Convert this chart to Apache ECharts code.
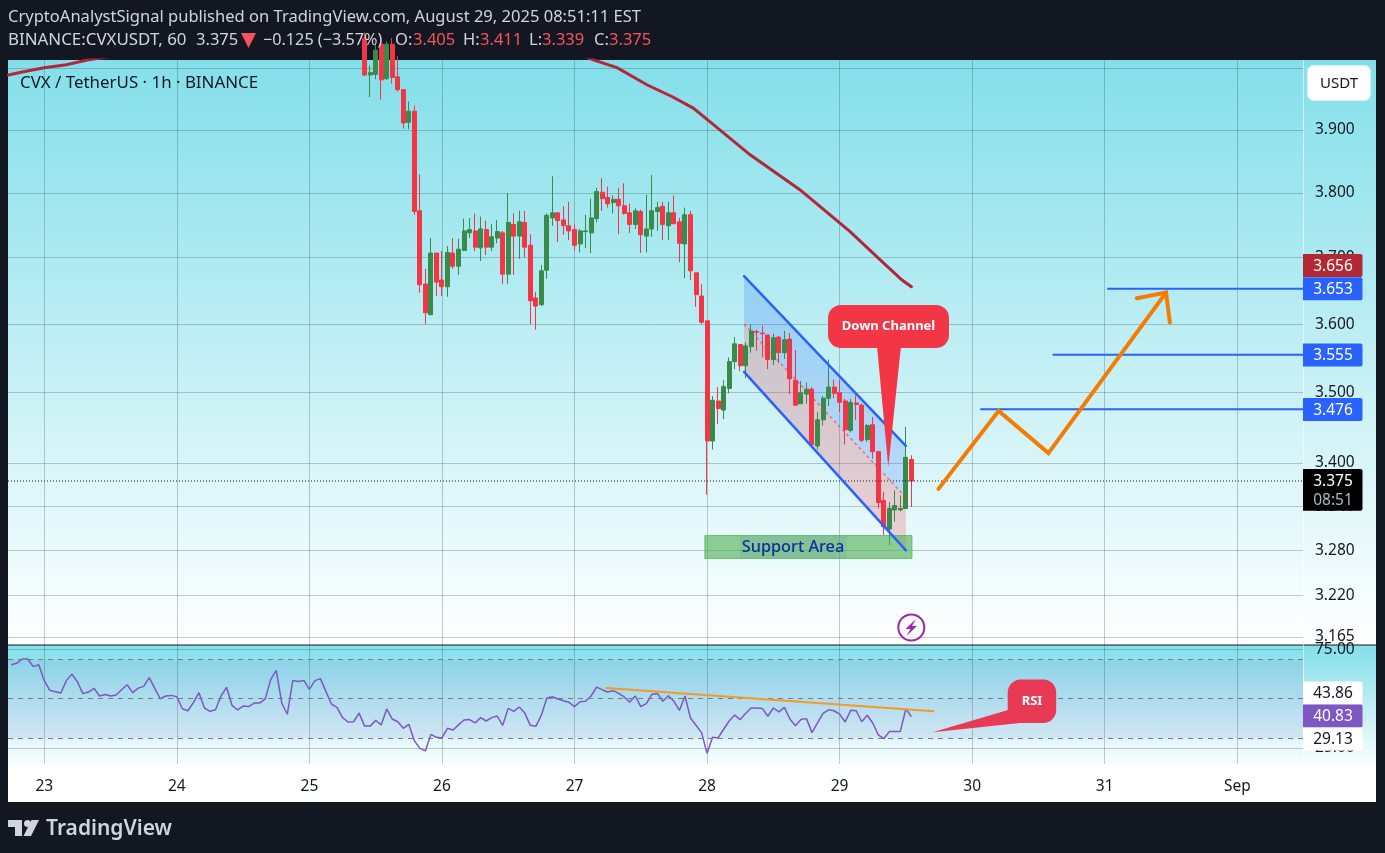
<!DOCTYPE html>
<html>
<head>
    <meta charset="utf-8" />
    <title>CVX / TetherUS</title>
    <script src="https://cdn.jsdelivr.net/npm/echarts@6/dist/echarts.min.js"></script>
    <style>
        html, body { margin: 0; padding: 0; background: #131722; }
        #main { width: 1385px; height: 853px; }
    </style>
</head>
<body>
<div id="main"></div>

<script type="text/javascript">
    // hourly candles, hour 0 = Aug 23 00:00 on the chart
    var firstCandleHour = 58;
    var opens = [
        4.05, 3.989, 3.990, 4.04, 3.983, 4.04, 3.986, 3.965, 3.912, 3.930,
        3.772, 3.660, 3.614, 3.707, 3.666, 3.656, 3.707, 3.687, 3.711, 3.738,
        3.741, 3.715, 3.743, 3.716, 3.730, 3.738, 3.675, 3.751, 3.733, 3.754,
        3.719, 3.639, 3.629, 3.681, 3.761, 3.769, 3.758, 3.749, 3.743, 3.721,
        3.740, 3.738, 3.760, 3.801, 3.793, 3.785, 3.790, 3.780, 3.769, 3.751,
        3.771, 3.733, 3.744, 3.771, 3.779, 3.749, 3.769, 3.755, 3.721, 3.766,
        3.677, 3.642, 3.605, 3.431, 3.488, 3.475, 3.506, 3.545, 3.570, 3.539,
        3.567, 3.589, 3.587, 3.584, 3.548, 3.581, 3.558, 3.578, 3.518, 3.484,
        3.498, 3.505, 3.424, 3.461, 3.492, 3.508, 3.500, 3.488, 3.446, 3.485,
        3.482, 3.433, 3.454, 3.416, 3.348, 3.309, 3.335, 3.335, 3.337, 3.405
    ];
    var closes = [
        3.989, 3.993, 4.03, 3.981, 4.04, 3.985, 3.965, 3.911, 3.930, 3.771,
        3.659, 3.617, 3.707, 3.663, 3.656, 3.708, 3.687, 3.713, 3.741, 3.743,
        3.716, 3.744, 3.716, 3.732, 3.740, 3.675, 3.754, 3.733, 3.755, 3.716,
        3.635, 3.627, 3.680, 3.765, 3.769, 3.757, 3.749, 3.741, 3.719, 3.741,
        3.741, 3.761, 3.802, 3.791, 3.783, 3.790, 3.780, 3.768, 3.751, 3.772,
        3.735, 3.744, 3.772, 3.777, 3.751, 3.769, 3.752, 3.722, 3.766, 3.680,
        3.644, 3.603, 3.431, 3.489, 3.477, 3.509, 3.545, 3.571, 3.539, 3.568,
        3.590, 3.588, 3.586, 3.548, 3.580, 3.558, 3.577, 3.520, 3.482, 3.500,
        3.505, 3.426, 3.461, 3.492, 3.508, 3.499, 3.486, 3.447, 3.486, 3.483,
        3.432, 3.453, 3.416, 3.345, 3.312, 3.337, 3.341, 3.337, 3.408, 3.375
    ];
    var lows = [
        3.987, 3.953, 3.982, 3.949, 3.981, 3.975, 3.962, 3.902, 3.901, 3.766,
        3.647, 3.600, 3.614, 3.642, 3.642, 3.641, 3.683, 3.674, 3.710, 3.730,
        3.710, 3.695, 3.704, 3.710, 3.722, 3.660, 3.660, 3.674, 3.698, 3.700,
        3.600, 3.592, 3.627, 3.668, 3.749, 3.724, 3.735, 3.727, 3.711, 3.708,
        3.715, 3.707, 3.754, 3.772, 3.777, 3.768, 3.736, 3.766, 3.738, 3.744,
        3.707, 3.708, 3.732, 3.741, 3.727, 3.727, 3.752, 3.693, 3.669, 3.666,
        3.626, 3.600, 3.356, 3.419, 3.455, 3.462, 3.499, 3.534, 3.531, 3.521,
        3.558, 3.561, 3.551, 3.534, 3.540, 3.543, 3.549, 3.498, 3.482, 3.484,
        3.484, 3.422, 3.419, 3.453, 3.481, 3.492, 3.472, 3.426, 3.443, 3.461,
        3.429, 3.430, 3.406, 3.337, 3.301, 3.287, 3.319, 3.333, 3.337, 3.339
    ];
    var highs = [
        4.06, 4.005, 4.04, 4.05, 4.045, 4.05, 4.02, 3.965, 3.946, 3.939,
        3.829, 3.683, 3.730, 3.707, 3.710, 3.718, 3.730, 3.729, 3.760, 3.761,
        3.768, 3.763, 3.757, 3.752, 3.758, 3.741, 3.800, 3.768, 3.772, 3.772,
        3.736, 3.648, 3.689, 3.768, 3.826, 3.769, 3.779, 3.786, 3.751, 3.744,
        3.766, 3.791, 3.808, 3.823, 3.810, 3.796, 3.808, 3.815, 3.783, 3.776,
        3.774, 3.797, 3.828, 3.786, 3.786, 3.786, 3.796, 3.761, 3.777, 3.772,
        3.677, 3.660, 3.605, 3.495, 3.508, 3.518, 3.551, 3.581, 3.571, 3.573,
        3.600, 3.592, 3.598, 3.584, 3.586, 3.583, 3.590, 3.587, 3.562, 3.517,
        3.515, 3.508, 3.472, 3.495, 3.548, 3.519, 3.519, 3.491, 3.491, 3.496,
        3.484, 3.455, 3.465, 3.416, 3.360, 3.346, 3.362, 3.355, 3.451, 3.411
    ];

    // slow moving average, [hour, price]
    var maLine = [
        [-6.5, 3.989], [-4, 3.994], [0, 4.001], [4, 4.006], [8, 4.014], [20, 4.03], [50, 4.06], [80, 4.05], [95, 4.03],
        [99.4, 4.014], [103.7, 4.001], [109.1, 3.973], [113.8, 3.953], [117.5, 3.935], [120.5, 3.913],
        [127.8, 3.860], [136.8, 3.805], [145.9, 3.740], [151.3, 3.697], [155.3, 3.666], [157, 3.656]
    ];

    // RSI, one value per hour from firstRsiHour
    var firstRsiHour = -6;
    var rsiValues = [
        67.2, 67.9, 70.1, 70.1, 66.2, 67.2, 59.1, 54.2, 53.5, 52.8, 59.1, 62.4, 58.5, 52.5, 53.3, 55.2,
        51.3, 52.1, 51.3, 51.8, 54.5, 57.0, 53.0, 55.3, 56.2, 60.6, 55.2, 49.9, 51.3, 51.6, 50.9, 44.8,
        43.8, 47.9, 53.0, 45.2, 43.5, 44.3, 51.3, 55.7, 46.5, 44.2, 46.2, 45.9, 47.7, 47.7, 49.8, 59.7,
        64.3, 47.7, 42.0, 59.2, 58.7, 59.2, 54.7, 59.1, 60.1, 53.5, 47.2, 45.5, 40.3, 38.1, 38.2, 42.6,
        36.0, 36.0, 38.9, 36.6, 44.7, 39.6, 38.2, 34.9, 36.9, 28.6, 24.7, 23.4, 31.8, 30.3, 30.0, 34.9,
        34.0, 36.6, 39.1, 39.3, 37.6, 40.3, 38.6, 40.3, 41.1, 36.4, 45.0, 43.5, 45.7, 42.6, 36.4, 35.9,
        41.6, 50.3, 50.9, 49.8, 48.9, 48.1, 45.9, 48.4, 48.6, 51.3, 55.8, 54.5, 53.3, 54.0, 52.6, 50.8,
        48.2, 51.3, 45.9, 47.4, 52.1, 52.6, 48.6, 51.4, 48.6, 44.0, 51.3, 40.1, 36.4, 32.7, 22.2, 30.3,
        30.0, 34.4, 38.6, 41.6, 39.3, 42.5, 45.2, 45.2, 45.0, 41.0, 45.2, 43.2, 45.5, 39.6, 36.2, 39.3,
        39.8, 32.7, 37.6, 42.5, 44.3, 43.8, 42.1, 38.1, 44.0, 43.8, 38.2, 41.5, 37.6, 31.6, 29.6, 33.2,
        33.3, 33.3, 44.8, 40.83
    ];
    var rsiBands = [70, 50, 30];
    var rsiTicks = [75, 25];
    var rsiTrend = [[101.8, 55.3], [161, 43.6]];

    // axes
    var hourMin = -6.57, hourMax = 227.9;
    var dayHours = [0, 24, 48, 72, 96, 120, 144, 168, 192, 216];
    var dayLabels = ['23', '24', '25', '26', '27', '28', '29', '30', '31', 'Sep'];
    var priceMin = 3.1546, priceMax = 4.0137;
    var priceGrid = [4.0, 3.9, 3.8, 3.7, 3.6, 3.5, 3.4, 3.34, 3.28, 3.22, 3.165];
    var priceLabels = [3.9, 3.8, 3.7, 3.6, 3.5, 3.4, 3.34, 3.28, 3.22, 3.165];
    var lastPrice = 3.375;

    // drawings, [hour, price]
    var channelTop = [[126.7, 3.672], [156, 3.424]];
    var channelMid = [[126.7, 3.6], [156, 3.352]];
    var channelBottom = [[126.7, 3.530], [156, 3.280]];
    var supportArea = [[119.6, 3.300], [157.1, 3.300], [157.1, 3.269], [119.6, 3.269]];
    var targetLines = [[169.6, 3.476], [182.7, 3.555], [192.6, 3.653]];
    var forecastPath = [[161.9, 3.364], [172.8, 3.4738], [181.8, 3.4139], [203.1, 3.6472]];
    var arrowHead = [[197.8, 3.6388], [203.1, 3.6472], [203.8, 3.6024]];

    var candles = opens.map(function (o, i) {
        return [firstCandleHour + i, o, closes[i], lows[i], highs[i]];
    });
    var rsiData = rsiValues.map(function (v, i) {
        return [firstRsiHour + i, v];
    });

    var GRID_LINE = 'rgba(50,62,72,0.27)';
    var FONT = '"Noto Sans", sans-serif';

    function lineSeries(points, color, width, z, pane, type) {
        return {
            type: 'line',
            xAxisIndex: pane || 0,
            yAxisIndex: pane || 0,
            data: points,
            symbol: 'none',
            silent: true,
            z: z,
            lineStyle: { color: color, width: width, type: type || 'solid', cap: type ? 'butt' : 'round', join: 'miter' }
        };
    }

    function polygonSeries(points, fill, z, stroke) {
        return {
            type: 'custom',
            xAxisIndex: 0,
            yAxisIndex: 0,
            silent: true,
            z: z,
            data: [points[0]],
            renderItem: function (params, api) {
                return {
                    type: 'polygon',
                    shape: { points: points.map(function (p) { return api.coord(p); }) },
                    style: { fill: fill, stroke: stroke || null, lineWidth: 1 }
                };
            }
        };
    }

    var series = [
        polygonSeries(channelTop.concat(channelMid.slice().reverse()), 'rgba(41,98,255,0.2)', 1),
        polygonSeries(channelMid.concat(channelBottom.slice().reverse()), 'rgba(242,54,69,0.22)', 1),
        {
            type: 'candlestick',
            data: candles,
            barWidth: 4.5,
            silent: true,
            z: 3,
            itemStyle: {
                color: '#3a8a49',
                color0: '#f23645',
                borderColor: '#3a8a49',
                borderColor0: '#f23645',
                borderWidth: 1
            }
        },
        lineSeries(maLine, '#b2283a', 3, 4),
        lineSeries([[hourMin, lastPrice], [hourMax, lastPrice]], '#131722', 1, 4, 0, [1, 2]),
        lineSeries(channelMid, 'rgba(242,54,69,0.6)', 1.5, 4, 0, [3, 3]),
        lineSeries(channelTop, '#2962ff', 2.5, 5),
        lineSeries(channelBottom, '#2962ff', 2.5, 5),
        polygonSeries(supportArea, 'rgba(76,175,80,0.6)', 5, 'rgba(76,175,80,0.7)'),
        lineSeries(forecastPath, '#f57c00', 4, 6),
        lineSeries(arrowHead, '#f57c00', 4, 6),
        {
            type: 'line',
            xAxisIndex: 1,
            yAxisIndex: 1,
            data: rsiData,
            symbol: 'none',
            silent: true,
            z: 4,
            lineStyle: { color: '#7e57c2', width: 1.5 },
            markLine: {
                silent: true,
                symbol: 'none',
                label: { show: false },
                lineStyle: { color: '#787b86', width: 1, type: [5, 5] },
                data: rsiBands.map(function (v) { return { yAxis: v }; })
            },
            markArea: {
                silent: true,
                itemStyle: { color: 'rgba(90,80,200,0.1)' },
                data: [[{ yAxis: rsiBands[0] }, { yAxis: rsiBands[2] }]]
            }
        },
        lineSeries(rsiTrend, '#f59a23', 2, 5, 1)
    ];
    targetLines.forEach(function (t) {
        series.push(lineSeries([t, [hourMax, t[1]]], '#2962ff', 2, 5));
    });

    // overlays drawn on the page, not on an axis
    function box(x, y, w, h, fill, r, z, stroke) {
        return {
            type: 'rect', silent: true, z: z || 20,
            shape: { x: x, y: y, width: w, height: h, r: r || 0 },
            style: { fill: fill, stroke: stroke || null, lineWidth: 1 }
        };
    }
    function label(text, x, y, font, fill, align) {
        return {
            type: 'text', silent: true, z: 30,
            style: { x: x, y: y, text: text, font: font, fill: fill, align: align || 'left', verticalAlign: 'middle' }
        };
    }
    function poly(points, fill, z) {
        return { type: 'polygon', silent: true, z: z || 20, shape: { points: points }, style: { fill: fill } };
    }
    function tag(text, y, fill, color) {
        return [
            box(1303, y - 11.5, 59.5, 23, fill, [0, 2, 2, 0]),
            label(text, 1333, y + 1, '15.5px ' + FONT, color, 'center')
        ];
    }
    function fade() {
        return {
            type: 'linear', x: 0, y: 0, x2: 0, y2: 1,
            colorStops: [{ offset: 0, color: '#83dfea' }, { offset: 1, color: '#ffffff' }],
            global: false
        };
    }

    var HEADER = '16.55px ' + FONT;
    var graphics = [
        box(8, 60, 1368, 585, fade(), 0, -10),
        box(8, 645, 1368, 125, fade(), 0, -10),
        box(8, 770, 1368, 32, '#ffffff', 0, -10),
        box(8, 644.5, 1368, 1, '#131722', 0, 10),
        box(1303, 60, 1, 704, 'rgba(255,255,255,0.55)', 0, 10),

        label('CryptoAnalystSignal published on TradingView.com, August 29, 2025 08:51:11 EST', 8, 17.5, HEADER, '#d1d4dc'),
        label('BINANCE:CVXUSDT, 60', 8, 40.5, '16.9px ' + FONT, '#d1d4dc'),
        label('3.375', 196, 40.5, HEADER, '#d1d4dc'),
        poly([[241, 33], [256, 33], [248.5, 48]], '#f7525f', 30),
        label('\u22120.125 (\u22123.57%)', 263, 40.5, '16.2px ' + FONT, '#d1d4dc'),
        label('O:', 395, 40.5, HEADER, '#d1d4dc'),
        label('3.405', 413, 40.5, HEADER, '#f7525f'),
        label('H:', 463, 40.5, HEADER, '#d1d4dc'),
        label('3.411', 480, 40.5, HEADER, '#f7525f'),
        label('L:', 529, 40.5, HEADER, '#d1d4dc'),
        label('3.339', 542, 40.5, HEADER, '#f7525f'),
        label('C:', 594, 40.5, HEADER, '#d1d4dc'),
        label('3.375', 609, 40.5, HEADER, '#f7525f'),

        label('CVX / TetherUS \u00b7 1h \u00b7 BINANCE', 20, 83.5, '16.9px ' + FONT, '#131722'),

        box(1307.5, 65.5, 63, 35, '#ffffff', 6, 20, '#d7f2f5'),
        label('USDT', 1339, 83.5, '15px ' + FONT, '#131722', 'center'),

        // down channel callout
        poly([[877, 346], [901, 346], [888.3, 467]], '#f23645', 21),
        box(828, 305, 121, 43, '#f23645', 13, 21),
        label('Down Channel', 888.5, 326, 'bold 13px ' + FONT, '#ffffff', 'center'),

        // support area caption
        box(740, 535.5, 107, 23, 'rgba(90,110,180,0.12)', 0, 21),
        label('Support Area', 793, 547.5, '500 16.3px ' + FONT, '#0d2f9a', 'center'),

        // RSI callout
        poly([[1008, 710], [932.7, 732.3], [1020, 723]], '#e93a55', 21),
        box(1007.7, 679.5, 48.5, 43.5, '#e93a55', 13, 21),
        label('RSI', 1032, 701, 'bold 13px ' + FONT, '#ffffff', 'center'),

        // lightning badge
        {
            type: 'circle', silent: true, z: 20,
            shape: { cx: 911.3, cy: 627.5, r: 13 },
            style: { fill: 'rgba(255,255,255,0.6)', stroke: '#9c27b0', lineWidth: 2 }
        },
        poly([[916, 619], [905.5, 629], [910.5, 629], [906.5, 636], [917, 626], [912, 626]], '#9c27b0', 21),

        // footer logo
        poly([[8, 820], [22, 820], [22, 836], [15, 836], [15, 827], [8, 827]], '#d1d4dc', 20),
        { type: 'circle', silent: true, z: 20, shape: { cx: 27.5, cy: 823.5, r: 3.5 }, style: { fill: '#d1d4dc' } },
        poly([[31.5, 820], [39, 820], [31, 836], [23.5, 836]], '#d1d4dc', 20),
        label('TradingView', 46, 829, '600 21px ' + FONT, '#d1d4dc')
    ];
    graphics = graphics.concat(
        tag('3.656', 265.5, '#b22833', '#ffffff'),
        tag('3.653', 288.7, '#2962ff', '#ffffff'),
        tag('3.555', 355, '#2962ff', '#ffffff'),
        tag('3.476', 409.5, '#2962ff', '#ffffff'),
        [
            box(1303, 469, 59.5, 41.7, '#000000', [0, 2, 2, 0]),
            label('3.375', 1333, 482, '15.5px ' + FONT, '#ffffff', 'center'),
            label('08:51', 1333, 501, '15.5px ' + FONT, '#b2b5be', 'center')
        ],
        tag('43.86', 693, '#ffffff', '#131722'),
        tag('40.83', 716, '#7e57c2', '#ffffff'),
        tag('29.13', 739, '#ffffff', '#131722')
    );

    var myChart = echarts.init(document.getElementById('main'));

    var option = {
        animation: false,
        backgroundColor: '#131722',
        grid: [
            { left: 8, top: 60, width: 1295, height: 585 },
            { left: 8, top: 645, width: 1295, height: 119 }
        ],
        xAxis: [
            {
                type: 'value', gridIndex: 0, min: hourMin, max: hourMax,
                axisLine: { show: false },
                axisTick: { show: false, customValues: dayHours },
                axisLabel: { show: false, customValues: dayHours },
                splitLine: { show: true, lineStyle: { color: GRID_LINE, width: 1 } }
            },
            {
                type: 'value', gridIndex: 1, min: hourMin, max: hourMax,
                axisLine: { show: false },
                axisTick: { show: false, customValues: dayHours },
                axisLabel: {
                    customValues: dayHours,
                    margin: 15,
                    color: '#131722',
                    fontFamily: FONT,
                    fontSize: 15.5,
                    formatter: function (v) { return dayLabels[dayHours.indexOf(v)]; }
                },
                splitLine: { show: true, lineStyle: { color: GRID_LINE, width: 1 } }
            }
        ],
        yAxis: [
            {
                type: 'log', gridIndex: 0, position: 'right', min: priceMin, max: priceMax,
                axisLine: { show: false },
                axisTick: { show: false, customValues: priceGrid },
                axisLabel: {
                    customValues: priceLabels,
                    margin: 12,
                    padding: [3, 0, 0, 0],
                    color: '#131722',
                    fontFamily: FONT,
                    fontSize: 15.5,
                    formatter: function (v) { return Number(v).toFixed(3); }
                },
                splitLine: { show: true, lineStyle: { color: GRID_LINE, width: 1 } }
            },
            {
                type: 'value', gridIndex: 1, position: 'right', min: 16.75, max: 77.2,
                axisLine: { show: false },
                axisTick: { show: false, customValues: rsiTicks },
                axisLabel: {
                    customValues: rsiTicks,
                    margin: 12,
                    color: '#131722',
                    fontFamily: FONT,
                    fontSize: 15.5,
                    formatter: function (v) { return Number(v).toFixed(2); }
                },
                splitLine: { show: true, lineStyle: { color: GRID_LINE, width: 1 } }
            }
        ],
        series: series,
        graphic: { elements: graphics }
    };

    myChart.setOption(option);
</script>
</body>
</html>
